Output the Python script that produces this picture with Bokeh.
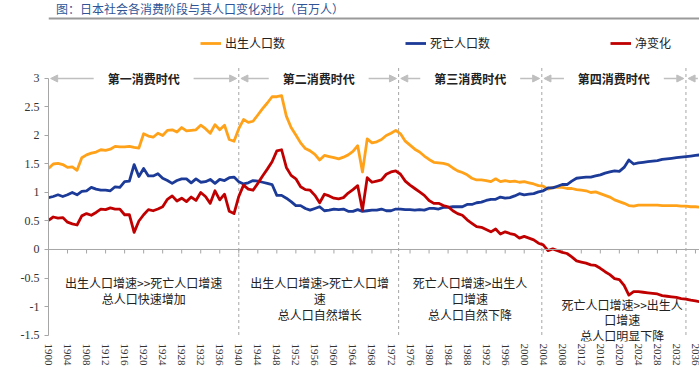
import math
from bokeh.plotting import figure
from bokeh.models import (Range1d, FixedTicker, Span, Legend, LegendItem, Arrow,
                          NormalHead, ColumnDataSource, Label)
from bokeh.layouts import column
from bokeh.core.properties import value
from bokeh.embed import file_html
from bokeh.resources import INLINE

# ---------------- data (millions) ----------------
years = list(range(1900, 2038))

births = [
    1.42, 1.50, 1.51, 1.49, 1.44, 1.45, 1.39, 1.61, 1.66, 1.69,
    1.71, 1.75, 1.74, 1.76, 1.81, 1.80, 1.80, 1.81, 1.79, 1.78,
    2.03, 1.99, 1.97, 2.04, 2.00, 2.09, 2.10, 2.06, 2.14, 2.08,
    2.09, 2.10, 2.18, 2.12, 2.04, 2.19, 2.10, 2.18, 1.93, 1.90,
    2.12, 2.28, 2.23, 2.25, 2.36, 2.47, 2.57, 2.68, 2.68, 2.70,
    2.34, 2.14, 2.01, 1.87, 1.77, 1.73, 1.67, 1.57, 1.65, 1.63,
    1.61, 1.59, 1.62, 1.66, 1.72, 1.82, 1.36, 1.94, 1.87, 1.89,
    1.93, 2.00, 2.04, 2.09, 2.03, 1.90, 1.83, 1.76, 1.71, 1.64,
    1.58, 1.53, 1.52, 1.51, 1.49, 1.43, 1.38, 1.35, 1.31, 1.25,
    1.22, 1.22, 1.21, 1.19, 1.24, 1.19, 1.21, 1.19, 1.20, 1.18,
    1.19, 1.17, 1.15, 1.12, 1.11, 1.06, 1.09, 1.09, 1.09, 1.07,
    1.07, 1.05, 1.04, 1.03, 1.00, 1.01, 0.98, 0.95, 0.92, 0.87,
    0.84, 0.81, 0.77, 0.76, 0.78, 0.78, 0.78, 0.78, 0.78, 0.77,
    0.77, 0.77, 0.77, 0.76, 0.76, 0.75, 0.75, 0.74,
]

deaths = [
    0.91, 0.93, 0.96, 0.93, 0.96, 1.00, 0.96, 1.02, 1.03, 1.09,
    1.06, 1.04, 1.04, 1.03, 1.10, 1.09, 1.19, 1.20, 1.49, 1.28,
    1.42, 1.29, 1.29, 1.33, 1.25, 1.21, 1.16, 1.21, 1.24, 1.24,
    1.17, 1.24, 1.18, 1.19, 1.23, 1.16, 1.23, 1.21, 1.26, 1.27,
    1.19, 1.15, 1.17, 1.21, 1.20, 1.18, 1.16, 1.14, 0.95, 0.95,
    0.90, 0.84, 0.77, 0.77, 0.72, 0.69, 0.72, 0.75, 0.68, 0.69,
    0.71, 0.70, 0.71, 0.67, 0.67, 0.70, 0.67, 0.68, 0.69, 0.69,
    0.71, 0.68, 0.68, 0.71, 0.71, 0.70, 0.70, 0.69, 0.70, 0.69,
    0.72, 0.72, 0.71, 0.74, 0.74, 0.75, 0.75, 0.75, 0.79, 0.79,
    0.82, 0.83, 0.86, 0.88, 0.88, 0.92, 0.90, 0.91, 0.94, 0.98,
    0.96, 0.97, 0.98, 1.01, 1.03, 1.08, 1.08, 1.11, 1.14, 1.14,
    1.20, 1.25, 1.26, 1.27, 1.27, 1.29, 1.31, 1.34, 1.36, 1.38,
    1.37, 1.44, 1.57, 1.50, 1.52, 1.53, 1.54, 1.55, 1.56, 1.58,
    1.59, 1.60, 1.61, 1.62, 1.63, 1.64, 1.65, 1.66,
]

net = [
    0.51, 0.57, 0.55, 0.56, 0.48, 0.45, 0.43, 0.59, 0.63, 0.60,
    0.65, 0.71, 0.70, 0.73, 0.71, 0.71, 0.61, 0.61, 0.30, 0.50,
    0.61, 0.70, 0.68, 0.71, 0.75, 0.88, 0.94, 0.85, 0.90, 0.84,
    0.92, 0.86, 1.00, 0.93, 0.81, 1.03, 0.87, 0.97, 0.67, 0.63,
    0.93, 1.13, 1.06, 1.04, 1.16, 1.29, 1.41, 1.54, 1.73, 1.75,
    1.44, 1.30, 1.24, 1.10, 1.05, 1.04, 0.95, 0.82, 0.97, 0.94,
    0.90, 0.89, 0.91, 0.99, 1.05, 1.12, 0.69, 1.26, 1.18, 1.20,
    1.22, 1.32, 1.36, 1.38, 1.32, 1.20, 1.13, 1.07, 1.01, 0.95,
    0.86, 0.81, 0.81, 0.77, 0.75, 0.68, 0.63, 0.60, 0.52, 0.46,
    0.40, 0.39, 0.35, 0.31, 0.36, 0.27, 0.31, 0.28, 0.26, 0.20,
    0.23, 0.20, 0.17, 0.11, 0.08, -0.02, 0.01, -0.02, -0.05, -0.07,
    -0.13, -0.20, -0.22, -0.24, -0.27, -0.28, -0.33, -0.39, -0.44, -0.51,
    -0.53, -0.63, -0.80, -0.74, -0.74, -0.75, -0.76, -0.77, -0.78, -0.81,
    -0.82, -0.83, -0.84, -0.86, -0.87, -0.89, -0.90, -0.92,
]

series_names = ["出生人口数", "死亡人口数", "净变化"]

period_starts = [1900, 1940, 1973.6, 2003.7, 2034]
period_ends = [1940, 1973.6, 2003.7, 2034, 2060]
period_labels = ["第一消费时代", "第二消费时代", "第三消费时代", "第四消费时代"]

notes = [
    "出生人口增速>>死亡人口增速\n总人口快速增加",
    "出生人口增速>死亡人口增\n速\n总人口自然增长",
    "死亡人口增速>出生人\n口增速\n总人口自然下降",
    "死亡人口增速>>出生人\n口增速\n总人口明显下降",
]
note_x = [1920, 1957, 1988.6, 2020.6]
note_y = [-0.435, -0.435, -0.435, -0.81]

x_ticks = list(range(1900, 2037, 4))
y_ticks = [-1.5, -1, -0.5, 0, 0.5, 1, 1.5, 2, 2.5, 3]
y_tick_text = ["-1.5", "-1", "-0.5", "0", "0.5", "1", "1.5", "2", "2.5", "3"]

title_text = "图：日本社会各消费阶段与其人口变化对比（百万人）"

# ---------------- styles ----------------
C_BIRTH = "#FFA21A"
C_DEATH = "#1C3A97"
C_NET = "#C00000"
GRID_GREY = "#a6a6a6"
CJK = "Noto Sans CJK SC"
SERIF = "Liberation Serif"
W = 699

# ---------------- header (title + rule) ----------------
HH = 24
hdr = figure(width=W, height=HH, output_backend="svg", toolbar_location=None,
             x_range=Range1d(0, W), y_range=Range1d(HH, 0),
             x_axis_type=None, y_axis_type=None, min_border=0)
hdr.outline_line_color = None
hdr.grid.visible = False
hdr.text(x=[8], y=[8], text=[title_text], text_font=value(CJK),
         text_font_size="12px", text_color="#2F5597", text_baseline="middle",
         text_align="left")
hdr.add_layout(Span(location=18, dimension="width", line_color="#9a9a9a", line_width=2))

# ---------------- main chart ----------------
# frame: x 48..699, y 30..341 (y=3 at 78, y=0 at 249)
p = figure(width=W, height=345, output_backend="svg", toolbar_location=None,
           x_range=Range1d(1900, 2036.85), y_range=Range1d(-1.614, 3.842),
           min_border_left=48, min_border_right=0, min_border_top=6, min_border_bottom=28)
p.outline_line_color = None
p.grid.visible = False
p.background_fill_color = "white"

# axes
xa = p.xaxis[0]
xa.ticker = FixedTicker(ticks=x_ticks)
xa.axis_line_color = None
xa.major_tick_line_color = None
xa.minor_tick_line_color = None
xa.major_tick_out = 0
xa.major_tick_in = 0
xa.major_label_orientation = -math.pi / 2
xa.major_label_text_font = SERIF
xa.major_label_text_font_size = "11px"
xa.major_label_text_color = "#333333"
xa.major_label_standoff = 2

ya = p.yaxis[0]
ya.ticker = FixedTicker(ticks=y_ticks)
ya.major_label_overrides = {t: s for t, s in zip(y_ticks, y_tick_text)}
ya.bounds = (-1.5, 3)
ya.axis_line_color = GRID_GREY
ya.major_tick_line_color = GRID_GREY
ya.minor_tick_line_color = None
ya.major_tick_out = 4
ya.major_tick_in = 0
ya.major_label_text_font = SERIF
ya.major_label_text_font_size = "12px"
ya.major_label_text_color = "#333333"
ya.major_label_standoff = 5

# zero line with tick marks
p.add_layout(Span(location=0, dimension="width", line_color=GRID_GREY, line_width=1))
p.segment(x0=x_ticks, y0=[0] * len(x_ticks), x1=x_ticks, y1=[-0.07] * len(x_ticks),
          line_color=GRID_GREY, line_width=1)

# period separators
bounds = period_starts[1:]
p.segment(x0=bounds, y0=[-1.5] * len(bounds), x1=bounds, y1=[3.23] * len(bounds),
          line_color=GRID_GREY, line_width=1, line_dash="3 3")

# period arrows and labels
half_gap = 10.5
eps = 0.45
centers = [(s + e) / 2 for s, e in zip(period_starts, period_ends)]
ax0, ax1 = [], []
for c, s, e in zip(centers, period_starts, period_ends):
    ax0 += [c - half_gap, c + half_gap]
    ax1 += [s + eps, e - eps]
arrow_src = ColumnDataSource(dict(x0=ax0, x1=ax1, y=[3] * len(ax0)))
p.add_layout(Arrow(source=arrow_src, x_start="x0", y_start="y", x_end="x1", y_end="y",
                   line_color="#bfbfbf", line_width=1.5,
                   end=NormalHead(size=7, fill_color="#bfbfbf", line_color="#bfbfbf")))
p.text(x=centers[:len(period_labels)], y=[3] * len(period_labels), text=period_labels,
       text_font=value(CJK), text_font_size="12px", text_font_style="bold",
       text_color="#222222", text_align="center", text_baseline="middle")

# notes
for t, nx, ny in zip(notes, note_x, note_y):
    p.add_layout(Label(x=nx, y=ny, text=t, text_font=CJK, text_font_size="12px",
                       text_color="#222222", text_align="center", text_baseline="top",
                       text_line_height=0.93))

# series
src = ColumnDataSource(dict(year=years, births=births, deaths=deaths, net=net))
r_b = p.line("year", "births", source=src, line_color=C_BIRTH, line_width=2.8, line_join="round")
r_d = p.line("year", "deaths", source=src, line_color=C_DEATH, line_width=2.8, line_join="round")
r_n = p.line("year", "net", source=src, line_color=C_NET, line_width=2.8, line_join="round")

# legend box bottom at page y 51 -> 290 px above frame bottom (341)
legend = Legend(items=[LegendItem(label=series_names[0], renderers=[r_b]),
                       LegendItem(label=series_names[1], renderers=[r_d]),
                       LegendItem(label=series_names[2], renderers=[r_n])],
                orientation="horizontal", location=(152, 290),
                padding=0, margin=0, spacing=0,
                glyph_width=21, glyph_height=14, label_height=14, label_width=180,
                label_standoff=4, label_text_font=CJK, label_text_font_size="12px",
                label_text_color="#222222",
                border_line_alpha=0, background_fill_alpha=0)
p.add_layout(legend)

# ---------------- footer rule ----------------
ftr = figure(width=W, height=4, output_backend="svg", toolbar_location=None,
             x_range=Range1d(0, W), y_range=Range1d(4, 0),
             x_axis_type=None, y_axis_type=None, min_border=0)
ftr.outline_line_color = None
ftr.grid.visible = False
ftr.add_layout(Span(location=2.5, dimension="width", line_color="#4d4d4d", line_width=2))

page = column(hdr, p, ftr, spacing=0)

open("out.html", "w").write(file_html(page, INLINE))
